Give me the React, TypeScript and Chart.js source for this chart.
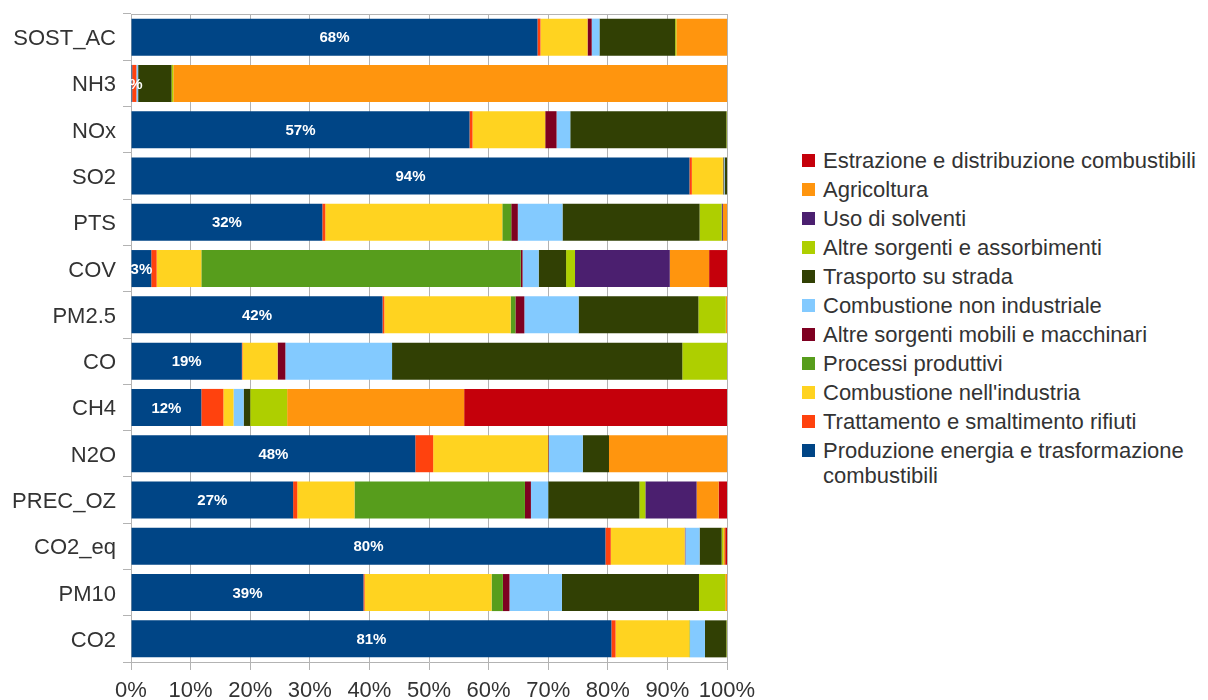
import React, { useEffect, useRef } from "react";
import { Chart, registerables } from "chart.js";

Chart.register(...registerables);

const categories = ["SOST_AC", "NH3", "NOx", "SO2", "PTS", "COV", "PM2.5", "CO", "CH4", "N2O", "PREC_OZ", "CO2_eq", "PM10", "CO2"];

const produzione = [68.2, 0.2, 56.8, 93.7, 32.1, 3.4, 42.2, 18.6, 11.8, 47.7, 27.2, 79.6, 39.0, 80.6];
const rifiuti = [0.5, 0.7, 0.5, 0.4, 0.5, 0.9, 0.3, 0.1, 3.7, 3.0, 0.7, 0.9, 0.2, 0.7];
const combInd = [7.9, 0, 12.2, 5.2, 29.7, 7.5, 21.2, 5.9, 1.7, 19.3, 9.6, 12.4, 21.3, 12.4];
const processi = [0, 0, 0, 0.1, 1.5, 53.6, 0.8, 0, 0, 0, 28.6, 0, 1.9, 0.1];
const mobili = [0.7, 0, 1.9, 0.1, 1.1, 0.3, 1.5, 1.3, 0, 0.1, 1.0, 0.1, 1.1, 0];
const combNonInd = [1.3, 0.3, 2.3, 0.1, 7.5, 2.7, 9.1, 17.9, 1.7, 5.7, 2.9, 2.4, 8.8, 2.5];
const trasporto = [12.7, 5.6, 26.2, 0.4, 23.0, 4.6, 20.1, 48.7, 1.1, 4.4, 15.3, 3.7, 23.0, 3.6];
const altreAssorb = [0.2, 0.3, 0.2, 0, 3.7, 1.5, 4.6, 7.5, 6.2, 0, 1.0, 0.3, 4.4, 0.1];
const solventi = [0, 0, 0, 0, 0.2, 15.9, 0, 0, 0, 0, 8.6, 0, 0, 0];
const agricoltura = [8.5, 92.9, 0, 0, 0.7, 6.6, 0.2, 0, 29.7, 19.8, 3.7, 0.3, 0.3, 0];
const estrazione = [0, 0, 0, 0, 0, 3.0, 0, 0, 44.1, 0, 1.4, 0.3, 0, 0];

const seriesNames = [
  "Produzione energia e trasformazione combustibili",
  "Trattamento e smaltimento rifiuti",
  "Combustione nell'industria",
  "Processi produttivi",
  "Altre sorgenti mobili e macchinari",
  "Combustione non industriale",
  "Trasporto su strada",
  "Altre sorgenti e assorbimenti",
  "Uso di solventi",
  "Agricoltura",
  "Estrazione e distribuzione combustibili",
];
const seriesData = [produzione, rifiuti, combInd, processi, mobili, combNonInd, trasporto, altreAssorb, solventi, agricoltura, estrazione];
const seriesColors = ["#004586", "#ff420e", "#ffd320", "#579d1c", "#7e0021", "#83caff", "#314004", "#aecf00", "#4b1f6f", "#ff950e", "#c5000b"];

const xTicks = [0, 10, 20, 30, 40, 50, 60, 70, 80, 90, 100];

const FONT = '"Liberation Sans", Arial, sans-serif';
const TEXT = "#333333";
const GRID = "#b3b3b3";

const labelPlugin = {
  id: "barLabels",
  afterDatasetsDraw(chart: any) {
    const { ctx, chartArea } = chart;
    const meta = chart.getDatasetMeta(0);
    ctx.save();
    ctx.beginPath();
    ctx.rect(chartArea.left, chartArea.top, chartArea.right - chartArea.left, chartArea.bottom - chartArea.top);
    ctx.clip();
    ctx.font = "bold 15px " + FONT;
    ctx.fillStyle = "#ffffff";
    ctx.textAlign = "center";
    ctx.textBaseline = "middle";
    meta.data.forEach((bar: any, i: number) => {
      const p = bar.getProps(["x", "y", "base"], true);
      ctx.fillText(Math.round(produzione[i]) + "%", (p.x + p.base) / 2, p.y + 1);
    });
    ctx.restore();
  },
};

const topLinePlugin = {
  id: "topLine",
  beforeDatasetsDraw(chart: any) {
    const { ctx, chartArea } = chart;
    ctx.save();
    ctx.strokeStyle = GRID;
    ctx.lineWidth = 1;
    ctx.beginPath();
    ctx.moveTo(chartArea.left, chartArea.top + 0.5);
    ctx.lineTo(chartArea.right, chartArea.top + 0.5);
    ctx.stroke();
    ctx.restore();
  },
};

export default function App() {
  const ref = useRef<HTMLCanvasElement | null>(null);

  useEffect(() => {
    if (!ref.current) return;
    Chart.defaults.font.family = FONT;
    const chart = new Chart(ref.current, {
      type: "bar",
      data: {
        labels: categories,
        datasets: seriesNames.map((name, i) => ({
          label: name,
          data: seriesData[i],
          backgroundColor: seriesColors[i],
          borderWidth: 0,
          barPercentage: 0.8,
          categoryPercentage: 1,
        })),
      },
      options: {
        indexAxis: "y",
        responsive: false,
        animation: false,
        layout: { padding: { top: 14, right: 43, left: 0, bottom: 0 } },
        plugins: {
          legend: { display: false },
          tooltip: { enabled: false },
        },
        scales: {
          x: {
            stacked: true,
            min: 0,
            max: 100,
            afterFit: (s: any) => {
              s.height = 38;
              s.paddingLeft = 0;
              s.paddingRight = 0;
            },
            afterBuildTicks: (s: any) => {
              s.ticks = xTicks.map((v) => ({ value: v }));
            },
            grid: { color: GRID, tickLength: 8, drawTicks: true },
            border: { color: GRID },
            ticks: {
              color: TEXT,
              font: { size: 22, family: FONT },
              padding: 8,
              maxRotation: 0,
              callback: (v: any) => v + "%",
            },
          },
          y: {
            stacked: true,
            afterFit: (s: any) => {
              s.width = 131;
              s.paddingTop = 0;
              s.paddingBottom = 0;
            },
            grid: { drawOnChartArea: false, color: GRID, tickLength: 8, offset: true },
            border: { color: GRID },
            ticks: {
              color: TEXT,
              font: { size: 22, family: FONT },
              padding: 7,
              labelOffset: 2,
            },
          },
        },
      },
      plugins: [topLinePlugin, labelPlugin],
    } as any);
    return () => chart.destroy();
  }, []);

  const legendOrder = seriesNames.map((n, i) => i).reverse();

  return (
    <div style={{ position: "absolute", left: 0, top: 0, width: 1208, height: 700, background: "#fff", overflow: "hidden" }}>
      <canvas ref={ref} width={770} height={700} style={{ position: "absolute", left: 0, top: 0, width: 770, height: 700 }} />
      <div style={{ position: "absolute", left: 802, top: 148, fontFamily: FONT, fontSize: 22, color: TEXT }}>
        {legendOrder.map((i, k) => (
          <div key={i} style={{ display: "flex", alignItems: "flex-start", marginBottom: 4, lineHeight: "25px" }}>
            <div style={{ width: 13, height: 13, background: seriesColors[i], marginTop: 6, marginRight: 8, flex: "0 0 auto" }} />
            <div style={{ whiteSpace: k === legendOrder.length - 1 ? "normal" : "nowrap", maxWidth: k === legendOrder.length - 1 ? 370 : undefined }}>
              {seriesNames[i]}
            </div>
          </div>
        ))}
      </div>
    </div>
  );
}
